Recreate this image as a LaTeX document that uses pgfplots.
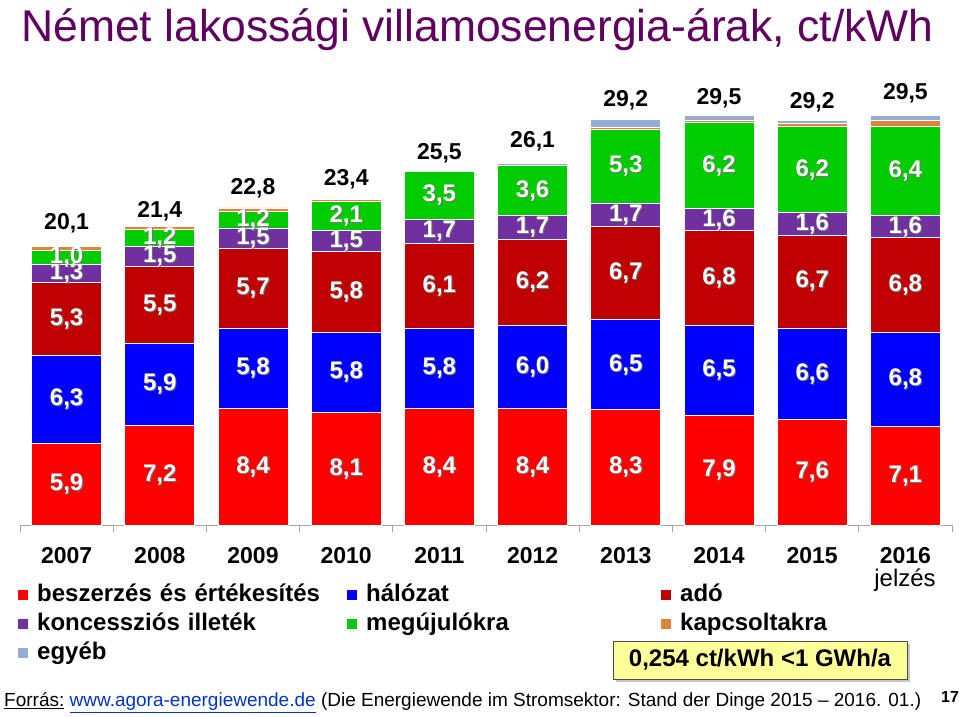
\documentclass[border=0pt]{standalone}
\usepackage{fontspec}
\setmainfont{Liberation Sans}
\usepackage{pgfplots}
\usepackage{pgfplotstable}
\pgfplotsset{compat=1.18}
\usetikzlibrary{shadows}
\definecolor{cB}{HTML}{FF0000}
\definecolor{cH}{HTML}{0000FF}
\definecolor{cA}{HTML}{C00000}
\definecolor{cK}{HTML}{7030A0}
\definecolor{cM}{HTML}{00CC00}
\definecolor{cC}{HTML}{E0843C}
\definecolor{cE}{HTML}{95ABD8}
\definecolor{ttl}{HTML}{600060}
\definecolor{boxy}{HTML}{FFFF99}
\definecolor{link}{HTML}{0033CC}

\pgfplotstableread{
x B H A K M C E
0 5.9 6.3 5.3 1.3 1.0 0.29 0.0
1 7.2 5.9 5.5 1.5 1.2 0.19 0.0
2 8.4 5.8 5.7 1.5 1.2 0.24 0.0
3 8.1 5.8 5.8 1.5 2.1 0.13 0.0
4 8.4 5.8 6.1 1.7 3.5 0.03 0.0
5 8.4 6.0 6.2 1.7 3.6 0.0 0.15
6 8.3 6.5 6.7 1.7 5.3 0.13 0.58
7 7.9 6.5 6.8 1.6 6.2 0.18 0.34
8 7.6 6.6 6.7 1.6 6.2 0.25 0.19
9 7.1 6.8 6.8 1.6 6.4 0.45 0.38
}\data

\newcommand{\vf}{\bfseries\fontsize{24}{28}\selectfont}
\newcommand{\vl}[3]{%
 \node[font=\vf, text=black!55, xshift=1pt, yshift=-1pt, inner sep=0pt] at (axis cs:#1,#2) {#3};
 \node[font=\vf, text=white, inner sep=0pt] at (axis cs:#1,#2) {#3};}
\newcommand{\tl}[3]{\node[font=\bfseries\fontsize{23}{28}\selectfont, inner sep=0pt] at (axis cs:#1,#2) {#3};}

\pgfplotsset{geom/.style={at={(20pt,192pt)}, anchor=south west, scale only axis,
  width=932pt, height=416.4pt, xmin=-0.5, xmax=9.5, ymin=0, ymax=30, clip=false}}

\begin{document}
\begin{tikzpicture}[x=1pt,y=1pt]
\path[use as bounding box] (0,0) rectangle (959,717);
\node[anchor=base west, text=ttl, font=\fontsize{44.5}{50}\selectfont, inner sep=0pt] at (21,675) {Német lakossági villamosenergia-árak, ct/kWh};

\begin{axis}[geom,
  ybar stacked, bar width=70pt,
  axis y line=none, axis x line*=bottom,
  x axis line style={draw=gray!70, line width=0.8pt, -},
  xtick={0,...,9},
  xticklabels={2007,2008,2009,2010,2011,2012,2013,2014,2015,2016},
  major tick length=0pt,
  xticklabel style={font=\bfseries\fontsize{23}{28}\selectfont, yshift=-19pt},
  extra x ticks={-0.5,0.5,1.5,2.5,3.5,4.5,5.5,6.5,7.5,8.5,9.5},
  extra x tick labels={},
  extra x tick style={major tick length=7pt, tick align=outside, tick style={draw=gray!70, line width=0.8pt}},
  every axis plot/.append style={draw=white, line width=0.8pt},
  legend columns=3,
  legend image code/.code={\path[#1,draw=none] (0pt,-5pt) rectangle (10pt,5pt); \path[draw=none,fill=none] (0pt,0pt) -- (18pt,0pt);},
  legend style={at={(0,0)}, anchor=north west, xshift=-2pt, yshift=-58pt,
    draw=none, fill=none, inner sep=0pt,
    font=\bfseries\fontsize{24}{28}\selectfont,
    nodes={inner sep=1pt, text height=17pt, text depth=5pt, anchor=west},
    row sep=5pt,
    /tikz/column 2/.style={nodes={text width=309pt}},
    /tikz/column 4/.style={nodes={text width=294pt}}},
  legend cell align=left,
]
\addplot[fill=cB] table[x=x,y=B]{\data};
\addplot[fill=cH] table[x=x,y=H]{\data};
\addplot[fill=cA] table[x=x,y=A]{\data};
\addplot[fill=cK] table[x=x,y=K]{\data};
\addplot[fill=cM] table[x=x,y=M]{\data};
\addplot[fill=cC] table[x=x,y=C]{\data};
\addplot[fill=cE] table[x=x,y=E]{\data};
\legend{beszerzés és értékesítés, hálózat, adó, koncessziós illeték, megújulókra, kapcsoltakra, egyéb}
\end{axis}

\begin{axis}[geom, hide axis]
\vl{0}{2.95}{5,9}\vl{0}{9.05}{6,3}\vl{0}{14.85}{5,3}\vl{0}{18.15}{1,3}\vl{0}{19.3}{1,0}
\vl{1}{3.6}{7,2}\vl{1}{10.15}{5,9}\vl{1}{15.85}{5,5}\vl{1}{19.35}{1,5}\vl{1}{20.7}{1,2}
\vl{2}{4.2}{8,4}\vl{2}{11.3}{5,8}\vl{2}{17.05}{5,7}\vl{2}{20.65}{1,5}\vl{2}{22.0}{1,2}
\vl{3}{4.05}{8,1}\vl{3}{11.0}{5,8}\vl{3}{16.8}{5,8}\vl{3}{20.45}{1,5}\vl{3}{22.25}{2,1}
\vl{4}{4.2}{8,4}\vl{4}{11.3}{5,8}\vl{4}{17.25}{6,1}\vl{4}{21.15}{1,7}\vl{4}{23.75}{3,5}
\vl{5}{4.2}{8,4}\vl{5}{11.4}{6,0}\vl{5}{17.5}{6,2}\vl{5}{21.45}{1,7}\vl{5}{24.1}{3,6}
\vl{6}{4.15}{8,3}\vl{6}{11.55}{6,5}\vl{6}{18.15}{6,7}\vl{6}{22.35}{1,7}\vl{6}{25.85}{5,3}
\vl{7}{3.95}{7,9}\vl{7}{11.15}{6,5}\vl{7}{17.8}{6,8}\vl{7}{22.0}{1,6}\vl{7}{25.9}{6,2}
\vl{8}{3.8}{7,6}\vl{8}{10.9}{6,6}\vl{8}{17.55}{6,7}\vl{8}{21.7}{1,6}\vl{8}{25.6}{6,2}
\vl{9}{3.55}{7,1}\vl{9}{10.5}{6,8}\vl{9}{17.3}{6,8}\vl{9}{21.5}{1,6}\vl{9}{25.5}{6,4}
\tl{0}{21.76}{20,1}\tl{1}{22.62}{21,4}\tl{2}{24.28}{22,8}\tl{3}{24.93}{23,4}\tl{4}{26.80}{25,5}
\tl{5}{27.67}{26,1}\tl{6}{30.62}{29,2}\tl{7}{30.76}{29,5}\tl{8}{30.48}{29,2}\tl{9}{31.12}{29,5}
\end{axis}

\node[font=\fontsize{24}{28}\selectfont, inner sep=0pt] at (905,137) {jelzés};
\node[fill=boxy, draw=black!70, line width=0.8pt, minimum width=294pt, minimum height=38pt,
  font=\bfseries\fontsize{24}{28}\selectfont, inner sep=0pt,
  drop shadow={shadow xshift=3pt, shadow yshift=-3pt, fill=black!45}] at (760,57) {0,254 ct/kWh <1 GWh/a};
\node[anchor=base west, inner sep=0pt, font=\fontsize{19}{22}\selectfont] at (4,10)
  {\underline{Forrás:} \textcolor{link}{\underline{www.agora-energiewende.de}} (Die Energiewende im Stromsektor: Stand der Dinge 2015 – 2016. 01.)};
\node[anchor=base, inner sep=0pt, font=\bfseries\fontsize{16}{18}\selectfont] at (950,14) {17};
\end{tikzpicture}
\end{document}
